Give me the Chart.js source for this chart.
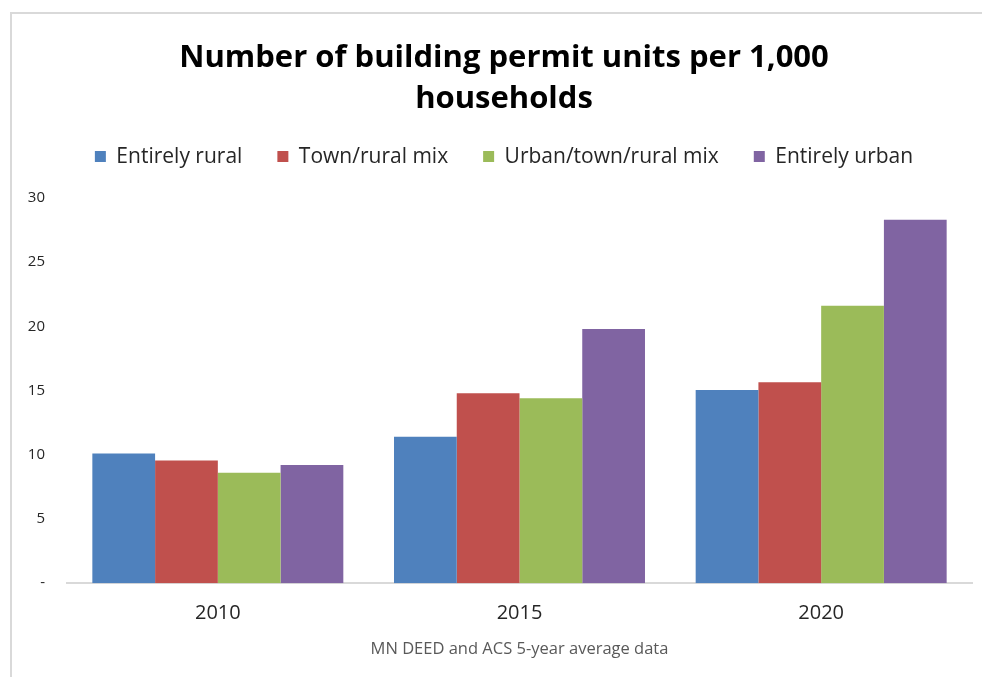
<!DOCTYPE html>
<html>
<head>
<meta charset="utf-8">
<script src="https://cdn.jsdelivr.net/npm/chart.js@4.4.0/dist/chart.umd.min.js"></script>
<style>
  html, body { margin: 0; padding: 0; background: #fff; }
  #frame {
    position: absolute; left: 0; top: 0; width: 982px; height: 677px; overflow: hidden;
  }
  #border {
    position: absolute; left: 10px; top: 12px; width: 980px; height: 700px;
    border-left: 2px solid #d9d9d9; border-top: 2px solid #d9d9d9;
    box-sizing: border-box;
  }
  canvas { position: absolute; left: 0; top: 0; }
</style>
</head>
<body>
<div id="frame">
  <div id="border"></div>
  <canvas id="chart" width="982" height="677"></canvas>
</div>
<script>
"use strict";

// Data
const years = ['2010', '2015', '2020'];
const seriesNames = ['Entirely rural', 'Town/rural mix', 'Urban/town/rural mix', 'Entirely urban'];
const entirelyRural = [10.1, 11.4, 15.05];
const townRuralMix = [9.55, 14.8, 15.65];
const urbanTownRuralMix = [8.6, 14.4, 21.6];
const entirelyUrban = [9.2, 19.8, 28.3];
const seriesColors = ['#4F81BD', '#C0504D', '#9BBB59', '#8064A2'];
const yMax = 30;
const yStep = 5;

const fontFamily = '"Open Sans", Lato, sans-serif';
const seriesValues = [entirelyRural, townRuralMix, urbanTownRuralMix, entirelyUrban];

const datasets = seriesNames.map((name, i) => ({
  label: name,
  data: seriesValues[i],
  backgroundColor: seriesColors[i],
  borderWidth: 0,
  categoryPercentage: 0.832,
  barPercentage: 1.0
}));

// Adds some empty space under the legend row (Chart.js ties it to label padding)
const legendGap = {
  id: 'legendGap',
  beforeUpdate(chart) {
    const legend = chart.legend;
    if (legend && !legend._gapPatched) {
      const fit = legend.fit.bind(legend);
      legend.fit = function() {
        fit();
        this.height += 21;
      };
      legend._gapPatched = true;
    }
  }
};

const chartElement = document.getElementById('chart');

new Chart(chartElement, {
  type: 'bar',
  data: { labels: years, datasets: datasets },
  plugins: [legendGap],
  options: {
    responsive: false,
    animation: false,
    devicePixelRatio: 1,
    layout: { padding: { left: 36, right: 10, top: 0, bottom: 18 } },
    plugins: {
      tooltip: { enabled: false },
      title: {
        display: true,
        text: ['Number of building permit units per 1,000', 'households'],
        color: '#000',
        font: { family: fontFamily, size: 31, weight: 'bold', lineHeight: 1.323 },
        padding: { top: 38, bottom: -9 }
      },
      legend: {
        position: 'top',
        labels: {
          color: '#262626',
          boxWidth: 11,
          boxHeight: 11,
          padding: 35,
          font: { family: fontFamily, size: 21 }
        }
      }
    },
    scales: {
      x: {
        grid: { display: false, drawTicks: false },
        border: { display: true, color: '#d9d9d9', width: 2 },
        ticks: {
          color: '#262626',
          padding: 18,
          font: { family: fontFamily, size: 20 }
        },
        title: {
          display: true,
          text: 'MN DEED and ACS 5-year average data',
          color: '#595959',
          font: { family: fontFamily, size: 16.5 },
          padding: { top: -4, bottom: 0 }
        }
      },
      y: {
        min: 0,
        max: yMax,
        grid: { display: false, drawTicks: false },
        border: { display: false },
        afterFit: (scale) => {
          scale.width = 31;
          // let the tick labels reach left of the narrow axis box
          scale._computeLabelArea = () => undefined;
        },
        ticks: {
          stepSize: yStep,
          autoSkip: false,
          color: '#262626',
          padding: 22,
          font: { family: fontFamily, size: 15 },
          callback: (value) => value === 0 ? '-' : value
        }
      }
    }
  }
});
</script>
</body>
</html>
